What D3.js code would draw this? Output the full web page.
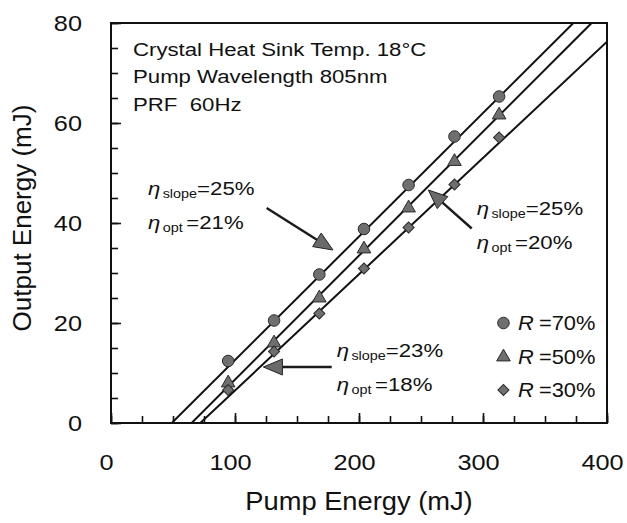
<!DOCTYPE html>
<html>
<head>
<meta charset="utf-8">
<script src="https://cdn.jsdelivr.net/npm/d3@7"></script>
<style>
  body { margin: 0; background: #fff; }
  text { font-family: "Liberation Sans", Arial, sans-serif; fill: #111; }
</style>
</head>
<body>
<div id="chart"></div>
<script>
// Values
const pumpEnergy = [94.5, 131.5, 168, 204, 240, 277, 313];
const outR70 = [12.4, 20.5, 29.7, 38.8, 47.6, 57.3, 65.3];
const outR50 = [8.0, 16.0, 25.0, 34.8, 43.0, 52.3, 61.6];
const outR30 = [6.6, 14.3, 21.9, 30.9, 39.1, 47.7, 57.1];
const seriesLabels = ["=70%", "=50%", "=30%"];
// Linear fits: slope and threshold (x at zero output)
const fitSlope = [0.247, 0.248, 0.2325];
const fitThreshold = [49, 65, 72];

const xTicks = [0, 100, 200, 300, 400];
const yTicks = [0, 20, 40, 60, 80];
const infoLines = ["Crystal Heat Sink Temp. 18°C", "Pump Wavelength 805nm", "PRF\u00a0\u00a060Hz"];

// Annotations (data units): text anchor, slope / optical efficiency, arrow tail and tip
const annText = [[29.8, 45.6], [294.9, 41.6], [182, 13.2]];
const annSlope = ["25%", "25%", "23%"];
const annOpt = ["21%", "20%", "18%"];
const arrowTail = [[125.5, 43], [290.9, 38.9], [178, 11.2]];
const arrowTip = [[179, 34.6], [255.9, 46.6], [122.9, 11.2]];

const width = 627, height = 523;
const margin = { top: 23, right: 20, bottom: 100, left: 111 };
const innerW = width - margin.left - margin.right;
const innerH = height - margin.top - margin.bottom;

const x = d3.scaleLinear().domain([0, 400]).range([0, innerW]);
const y = d3.scaleLinear().domain([0, 80]).range([innerH, 0]);

const svg = d3.select("#chart").append("svg")
  .attr("width", width).attr("height", height);
const g = svg.append("g").attr("transform", `translate(${margin.left},${margin.top})`);

// stretched text helper (the original font is wide)
const placeText = (sel, px, py, sx) =>
  sel.attr("transform", `translate(${px},${py}) scale(${sx},1)`);

// Minor ticks (inward)
g.append("g").attr("class", "minor")
  .call(d3.axisLeft(y).tickValues(d3.range(0, 81, 5)).tickSize(-7).tickFormat(""));
g.append("g").attr("class", "minor")
  .attr("transform", `translate(0,${innerH})`)
  .call(d3.axisBottom(x).tickValues(d3.range(0, 401, 25)).tickSize(-7).tickFormat(""));

// Major ticks with labels
const tickSx = 1.15;
const yAxisG = g.append("g")
  .call(d3.axisLeft(y).tickValues(yTicks).tickSize(-10).tickPadding(29));
yAxisG.selectAll("text")
  .attr("x", -29 / tickSx)
  .attr("transform", `scale(${tickSx},1)`);

const xAxisG = g.append("g")
  .attr("transform", `translate(0,${innerH})`)
  .call(d3.axisBottom(x).tickValues(xTicks).tickSize(-10).tickPadding(31));
xAxisG.selectAll("text")
  .attr("x", -5 / tickSx)
  .attr("transform", `scale(${tickSx},1)`);

g.selectAll(".domain").remove();
g.selectAll(".tick line").attr("stroke", "#111").attr("stroke-width", 1.6);
g.selectAll(".tick text").style("font-size", "22px").attr("fill", "#111");

// Frame
g.append("rect")
  .attr("width", innerW).attr("height", innerH)
  .attr("fill", "none").attr("stroke", "#111").attr("stroke-width", 2);

// Axis titles
placeText(g.append("text"), innerW / 2, 487, 1.05)
  .attr("text-anchor", "middle")
  .style("font-size", "26px")
  .text("Pump Energy (mJ)");
g.append("text")
  .attr("transform", `translate(${31 - margin.left},${195}) rotate(-90)`)
  .attr("text-anchor", "middle")
  .style("font-size", "26px")
  .text("Output Energy (mJ)");

// Clip for fit lines
svg.append("defs").append("clipPath").attr("id", "plot-clip")
  .append("rect").attr("width", innerW).attr("height", innerH);
const plot = g.append("g").attr("clip-path", "url(#plot-clip)");

// Fit lines
const line = d3.line().x((d) => x(d[0])).y((d) => y(d[1]));
fitSlope.forEach((s, i) => {
  const x0 = fitThreshold[i];
  const x1 = Math.min(400, x0 + 80 / s);
  plot.append("path")
    .attr("d", line([[x0, 0], [x1, s * (x1 - x0)]]))
    .attr("fill", "none")
    .attr("stroke", "#111")
    .attr("stroke-width", 2);
});

// Markers
const markerFill = "#6f6f6f", markerStroke = "#2a2a2a";
const symbols = [
  d3.symbol().type(d3.symbolCircle).size(105),
  d3.symbol().type(d3.symbolTriangle).size(80),
  d3.symbol().type(d3.symbolSquare).size(62),
];
const rotations = [0, 0, 45];
const outputs = [outR70, outR50, outR30];

outputs.forEach((vals, i) => {
  g.append("g").selectAll("path")
    .data(vals)
    .enter()
    .append("path")
    .attr("d", symbols[i])
    .attr("transform", (d, j) => `translate(${x(pumpEnergy[j])},${y(d)}) rotate(${rotations[i]})`)
    .attr("fill", markerFill)
    .attr("stroke", markerStroke)
    .attr("stroke-width", 1);
});

// Info text
const textSx = 1.2;
const infoY = [33, 60, 88];
infoLines.forEach((t, i) => {
  placeText(g.append("text"), 22, infoY[i], textSx)
    .style("font-size", "18.5px")
    .text(t);
});

// Efficiency annotations
annText.forEach((p, i) => {
  const px = x(p[0]), py = y(p[1]);
  const t1 = placeText(g.append("text"), px, py, textSx).style("font-size", "18.5px");
  t1.append("tspan").style("font-style", "italic").text("η");
  t1.append("tspan").attr("dx", 2).attr("dy", 3).style("font-size", "12px").text("slope");
  t1.append("tspan").attr("dy", -3).text("=" + annSlope[i]);

  const t2 = placeText(g.append("text"), px, py + 34, textSx).style("font-size", "18.5px");
  t2.append("tspan").style("font-style", "italic").text("η");
  t2.append("tspan").attr("dx", 2).attr("dy", 3).style("font-size", "12px").text("opt");
  t2.append("tspan").attr("dx", 3).attr("dy", -3).text("=" + annOpt[i]);
});

// Arrows
arrowTail.forEach((tail, i) => {
  const tip = arrowTip[i];
  const x0 = x(tail[0]), y0 = y(tail[1]);
  const x1 = x(tip[0]), y1 = y(tip[1]);
  const ang = Math.atan2(y1 - y0, x1 - x0);
  const headLen = 19, headHalf = 8;
  const bx = x1 - headLen * Math.cos(ang), by = y1 - headLen * Math.sin(ang);
  g.append("line")
    .attr("x1", x0).attr("y1", y0).attr("x2", bx).attr("y2", by)
    .attr("stroke", "#1a1a1a").attr("stroke-width", 2.4);
  const nx = -Math.sin(ang), ny = Math.cos(ang);
  g.append("path")
    .attr("d", `M${x1},${y1}L${bx + nx * headHalf},${by + ny * headHalf}L${bx - nx * headHalf},${by - ny * headHalf}Z`)
    .attr("fill", "#6a6a6a")
    .attr("stroke", "#222")
    .attr("stroke-width", 1);
});

// Legend
const legendX = 316.5, legendTextX = 328.2;
const legendY = [20, 13.2, 6.6];
seriesLabels.forEach((lab, i) => {
  g.append("path")
    .attr("d", symbols[i])
    .attr("transform", `translate(${x(legendX)},${y(legendY[i])}) rotate(${rotations[i]})`)
    .attr("fill", markerFill)
    .attr("stroke", markerStroke)
    .attr("stroke-width", 1);
  const t = placeText(g.append("text"), x(legendTextX), y(legendY[i]) + 7, 1.04)
    .style("font-size", "21px");
  t.append("tspan").style("font-style", "italic").text("R");
  t.append("tspan").attr("dx", 5).text(lab);
});
</script>
</body>
</html>
